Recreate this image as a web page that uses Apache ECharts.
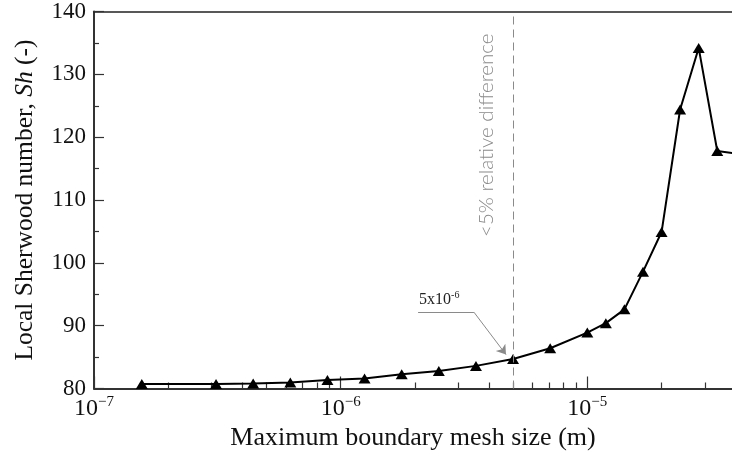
<!DOCTYPE html>
<html><head><meta charset="utf-8">
<script src="https://cdn.jsdelivr.net/npm/echarts@6/dist/echarts.min.js"></script>
<style>html,body{margin:0;padding:0;background:#fff}#c{width:732px;height:461px}</style>
</head><body><div id="c"></div>
<script>
// ---- data ----
const meshSize = [1.5625e-7, 3.125e-7, 4.419e-7, 6.25e-7, 8.839e-7, 1.25e-6, 1.768e-6, 2.5e-6, 3.536e-6, 5e-6,
                  7.071e-6, 1e-5, 1.189e-5, 1.414e-5, 1.682e-5, 2e-5, 2.378e-5, 2.828e-5, 3.364e-5, 4e-5];
const sherwood = [80.7, 80.7, 80.8, 80.95, 81.35, 81.6, 82.25, 82.8, 83.6, 84.7,
                  86.4, 88.9, 90.4, 92.6, 98.6, 104.9, 124.4, 134.2, 117.8, 117.4];
const xMin = 1e-7, xMax = 3.86e-5;
const yMin = 80, yMax = 140, yStep = 10;
const minorXTicks = [2e-7,3e-7,4e-7,5e-7,6e-7,7e-7,8e-7,9e-7,
                     2e-6,3e-6,4e-6,5e-6,6e-6,7e-6,8e-6,9e-6,
                     2e-5,3e-5];
const thresholdX = 5e-6;
const thresholdText = '<5% relative difference';
const calloutText = ['5x10', '-6'];
const calloutPath = [[2.06e-6, 92.15], [3.47e-6, 92.15], [4.68e-6, 85.4]];
const xTitle = 'Maximum boundary mesh size (m)';
const yTitle = 'Local Sherwood number, {i|Sh} (-)';

const SERIF = '"Liberation Serif", "DejaVu Serif", serif';
const chart = echarts.init(document.getElementById('c'), null, {renderer: 'canvas'});

function expLabel(v) {
  const l = Math.log10(v);
  const e = Math.round(l);
  if (Math.abs(l - e) > 1e-6) return '';
  return '{a|10}{b|\u2212' + Math.abs(e) + '}';
}

const greyLine = {color: '#8a8a8a', width: 1, type: 'solid'};

chart.setOption({
  animation: false,
  backgroundColor: '#fff',
  grid: {left: 94, right: 0, top: 11, bottom: 72.5},
  xAxis: [
    {
      type: 'log', logBase: 10, min: xMin, max: xMax, position: 'bottom',
      name: xTitle, nameLocation: 'middle', nameGap: 36,
      nameTextStyle: {fontFamily: SERIF, fontSize: 26, color: '#111'},
      axisLine: {onZero: false, lineStyle: {color: '#333', width: 2}},
      axisTick: {inside: true, length: 12, lineStyle: {color: '#333', width: 1.2}},
      minorTick: {show: false},
      splitLine: {show: false},
      axisLabel: {
        margin: 6, showMaxLabel: false, formatter: expLabel,
        rich: {
          a: {fontFamily: SERIF, fontSize: 24, color: '#111', verticalAlign: 'bottom', lineHeight: 26},
          b: {fontFamily: SERIF, fontSize: 15, color: '#111', verticalAlign: 'top', lineHeight: 26}
        }
      }
    },
    {
      type: 'value', min: Math.log10(xMin), max: Math.log10(xMax), position: 'bottom',
      axisLine: {show: false, onZero: false},
      axisTick: {show: true, inside: true, length: 6, customValues: minorXTicks.map(Math.log10),
                 lineStyle: {color: '#333', width: 1.2}},
      axisLabel: {show: false, customValues: minorXTicks.map(Math.log10)},
      splitLine: {show: false}
    },
    {
      type: 'value', min: 0, max: 1, position: 'top',
      axisLine: {show: true, onZero: false, lineStyle: {color: '#222', width: 1.5}},
      axisTick: {show: false}, axisLabel: {show: false}, splitLine: {show: false}
    }
  ],
  yAxis: {
    type: 'value', min: yMin, max: yMax, interval: yStep,
    name: yTitle, nameLocation: 'middle', nameGap: 56,
    nameTextStyle: {fontFamily: SERIF, fontSize: 25.5, color: '#111',
                    rich: {i: {fontFamily: SERIF, fontSize: 25.5, fontStyle: 'italic', color: '#111'}}},
    axisLine: {onZero: false, lineStyle: {color: '#333', width: 2}},
    axisTick: {inside: true, length: 10, lineStyle: {color: '#333', width: 1.2}},
    minorTick: {show: true, splitNumber: 2, length: 5, lineStyle: {color: '#333', width: 1.2}},
    splitLine: {show: false},
    axisLabel: {margin: 8, fontFamily: SERIF, fontSize: 23, color: '#111'}
  },
  series: [{
    type: 'line',
    xAxisIndex: 0, yAxisIndex: 0,
    data: meshSize.map((x, i) => [x, sherwood[i]]),
    symbol: 'triangle', symbolSize: [12, 10],
    itemStyle: {color: '#000'},
    lineStyle: {color: '#000', width: 2},
    clip: true,
    markLine: {
      silent: true, symbol: ['none', 'none'], symbolSize: 9,
      label: {show: false},
      data: [
        [{coord: [thresholdX, yMin], lineStyle: {color: '#8a8a8a', width: 1, type: [8, 5]}}, {coord: [thresholdX, yMax]}],
        [{coord: calloutPath[0], lineStyle: greyLine}, {coord: calloutPath[1]}],
        [{coord: calloutPath[1], lineStyle: greyLine}, {coord: calloutPath[2], symbol: 'arrow'}]
      ]
    }
  }]
});

const topPt = chart.convertToPixel({xAxisIndex: 0, yAxisIndex: 0}, [thresholdX, yMax]);
const callPt = chart.convertToPixel({xAxisIndex: 0, yAxisIndex: 0}, calloutPath[0]);
chart.setOption({
  graphic: [
    {
      type: 'text', x: topPt[0] - 27, y: topPt[1] + 22, rotation: Math.PI / 2,
      style: {text: thresholdText, fontFamily: 'Lato, "Open Sans", sans-serif', fontWeight: 300,
              fontSize: 20.5, fill: '#8a8a8a', align: 'right', verticalAlign: 'middle'}
    },
    {
      type: 'text', x: callPt[0] + 1, y: callPt[1] - 4,
      style: {
        text: '{a|' + calloutText[0] + '}{b|' + calloutText[1] + '}',
        align: 'left', verticalAlign: 'bottom',
        rich: {
          a: {fontFamily: SERIF, fontSize: 16, fill: '#222', verticalAlign: 'bottom', lineHeight: 18},
          b: {fontFamily: SERIF, fontSize: 10, fill: '#222', verticalAlign: 'top', lineHeight: 18}
        }
      }
    }
  ]
});
</script>
</body></html>
